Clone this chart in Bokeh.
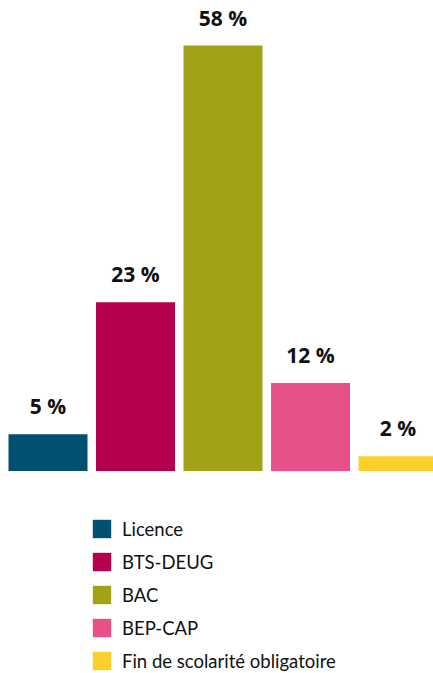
from bokeh.plotting import figure
from bokeh.models import ColumnDataSource, Range1d, Legend, LegendItem
from bokeh.core.properties import value
from bokeh.embed import file_html
from bokeh.resources import INLINE

categories = ["Licence", "BTS-DEUG", "BAC", "BEP-CAP", "Fin de scolarité obligatoire"]
values = [5, 23, 58, 12, 2]
colors = ["#00506f", "#b5004e", "#a2a216", "#e8508a", "#fccf2c"]

labels = [f"{v} %" for v in values]
xs = list(range(len(categories)))

src = ColumnDataSource(dict(x=xs, top=values, color=colors, label=labels, cat=categories))

W, H = 433, 673
p = figure(width=W, height=H, output_backend="svg", toolbar_location=None,
           x_range=Range1d(-0.5429, 4.4057), y_range=Range1d(-27.60, 64.14),
           min_border=0, outline_line_color=None)
p.xaxis.visible = False
p.yaxis.visible = False
p.grid.visible = False
p.background_fill_color = "white"

bars = p.vbar(x="x", top="top", bottom=0, width=79/87.5, fill_color="color",
              line_color=None, source=src)

p.text(x="x", y="top", text="label", source=src, text_align="center",
       text_baseline="alphabetic", y_offset=-28, text_font=value("Open Sans"),
       text_font_style="bold", text_font_size="21px", text_color="#111111")

items = [LegendItem(label=c, renderers=[bars], index=i) for i, c in enumerate(categories)]
legend = Legend(items=items, location=(90, 1), orientation="vertical",
                glyph_width=23, glyph_height=23, label_height=18, spacing=10,
                label_standoff=9, padding=0, margin=0,
                border_line_color=None, background_fill_alpha=0,
                label_text_font="Lato", label_text_font_size="18.5px",
                label_text_color="#111111")
p.add_layout(legend, "center")

open("out.html", "w").write(file_html(p, INLINE))
